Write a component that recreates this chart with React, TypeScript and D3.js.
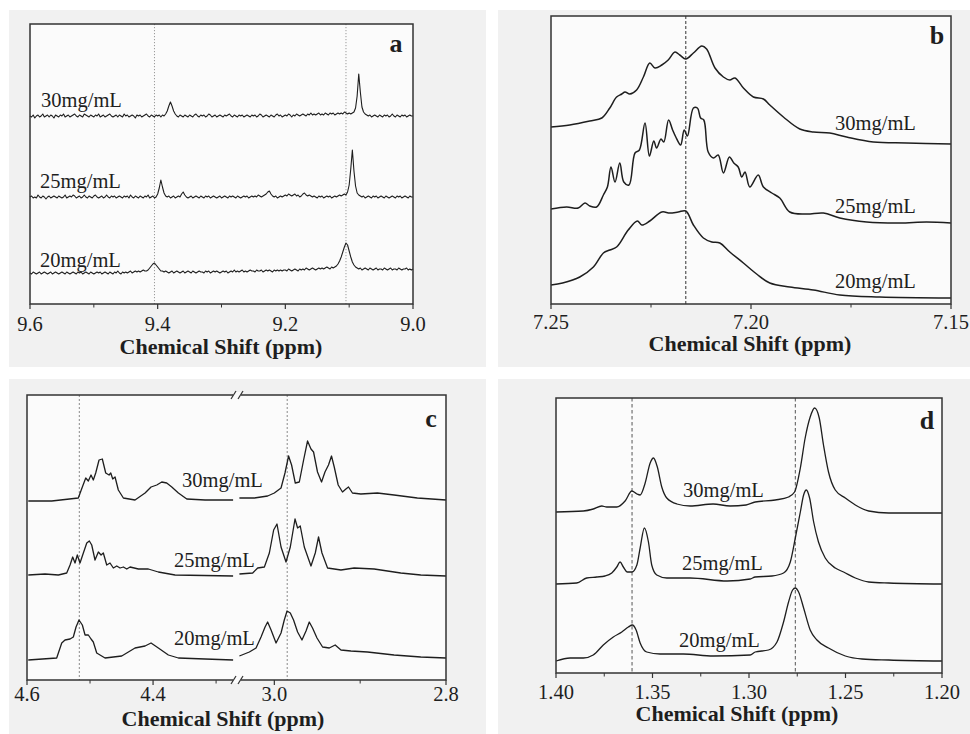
import * as d3 from 'd3';

type Pt = [number, number];

const concLabels = ['30mg/mL', '25mg/mL', '20mg/mL'];

// ---- panel a: 9.6 -> 9.0 ppm, one value every 0.0025 ppm (offset + deviation)
const aShift = d3.range(241).map(i => +(9.6 - i * 0.0025).toFixed(4));
const aOffsets = [188, 107, 31];
const a30 = [
  0, -1, 1, -2, 0, 1, -1, 0, 2, -1, 0, 1, -1, 1, 0, -2, 1, 0, -1, 1,
  0, 2, -1, 0, 1, -1, 0, 1, 2, 0, -1, 1, 0, -1, 2, 1, 0, -1, 1, 0,
  -1, 1, 0, 2, -1, 0, 1, -1, 0, 1, 2, 0, -1, 0, 1, -1, 1, 0, -1, 2,
  0, 1, -1, 0, 1, 0, -2, 1, 0, 1, -1, 0, 1, 2, 0, -1, 1, 0, -1, 1,
  0, 1, -1, 1, 0, 2, 5, 10, 14, 10, 5, 2, 0, -1, 1, 0, -1, 1, 0, -1,
  1, 0, -1, 1, 2, 0, -1, 1, 0, 1, -1, 0, 2, 1, -1, 0, 1, -1, 0, 1,
  0, -1, 1, 0, 1, 2, 0, -1, 1, 0, -1, 1, 0, 1, -1, 0, 1, 0, -1, 1,
  0, 1, -1, 0, 2, 1, -1, 0, 1, 0, -1, 1, 0, -1, 1, 2, 0, 1, -1, 0,
  1, 0, 2, 1, -1, 1, 0, 2, 1, 0, 1, 2, 1, 0, 2, 1, 3, 1, 2, 1,
  2, 3, 1, 2, 1, 3, 2, 1, 3, 2, 3, 1, 2, 3, 2, 3, 2, 4, 3, 2,
  3, 2, 3, 4, 8, 20, 42, 24, 9, 4, 2, 1, 0, 1, -1, 0, 1, 0, -1, 1,
  0, -1, 1, 0, 1, -1, 0, 2, 0, -1, 1, 0, -1, 1, 0, 1, -1, 0, 1, 0,
  0,
];
const a25 = [
  0, 1, -1, 0, -1, 2, 0, -1, 1, 0, -2, 0, 1, -1, 0, 1, 0, -1, 1, 0,
  -1, 0, 2, -1, 0, 1, 0, 2, 1, -1, 0, 1, -1, 0, 2, 0, -1, 1, 0, -1,
  1, 2, 0, -1, 0, 1, -1, 0, 2, 0, -1, 1, 0, 1, -1, 0, 1, 0, -1, 1,
  0, 1, -1, 2, 0, -1, 1, 0, -1, 1, 0, -1, 1, 0, 2, -1, 0, 1, -1, 0,
  3, 9, 17, 10, 4, 1, 0, 1, -1, 0, 1, -1, 0, 1, 0, 3, 5, 2, 0, -1,
  0, 1, -1, 0, 1, 0, -1, 1, 0, -1, 1, 0, 1, -1, 0, 1, 0, -1, 0, 1,
  -1, 0, 1, 0, -1, 1, 0, 1, 0, -1, 1, 0, -1, 0, 1, 0, 1, -1, 0, 1,
  0, 1, 0, 2, 1, 0, 1, 2, 3, 5, 6, 3, 1, 0, 1, -1, 0, 1, 0, 1,
  2, 1, 3, 2, 1, 2, 3, 1, 2, 0, 1, 3, 4, 2, 1, 2, 1, 0, 1, 0,
  -1, 1, 0, 1, -1, 0, 1, 0, 1, -1, 0, 1, 0, 1, 2, 1, 2, 3, 2, 5,
  12, 28, 47, 26, 11, 4, 2, 1, 0, 1, -1, 0, 1, 0, -1, 1, 0, 1, -1, 0,
  1, 0, -1, 1, 0, -1, 0, 1, 0, -1, 1, 0, 1, -1, 0, 1, 0, -1, 1, 0,
  0,
];
const a20 = [
  0, -1, 1, 0, -1, 0, 1, -1, 0, 1, 0, -1, 0, 1, -1, 0, 1, 0, -1, 0,
  1, 0, -1, 1, 0, -1, 0, 1, 0, -1, 1, 0, 1, -1, 0, 1, 0, -1, 1, 0,
  -1, 0, 1, 0, 1, -1, 0, 1, 0, -1, 1, 0, -1, 1, 0, 2, 0, -1, 1, 0,
  1, 0, 1, 2, 0, 1, 2, 1, 2, 1, 2, 3, 2, 2, 3, 5, 7, 9, 10, 8,
  6, 4, 2, 2, 1, 2, 1, 0, 1, 2, 0, 1, 2, 1, 0, 1, 2, 0, 1, 2,
  1, 0, 2, 1, 0, 1, 2, 1, 1, 0, 2, 1, 2, 0, 1, 2, 1, 2, 1, 0,
  1, 2, 1, 2, 0, 1, 2, 1, 3, 1, 2, 1, 2, 3, 1, 2, 1, 2, 3, 2,
  2, 1, 3, 2, 2, 3, 1, 2, 3, 2, 3, 2, 1, 3, 2, 3, 2, 3, 2, 3,
  3, 2, 4, 3, 2, 3, 4, 3, 2, 4, 3, 4, 3, 5, 4, 3, 4, 5, 4, 3,
  4, 5, 4, 5, 4, 5, 6, 5, 4, 6, 5, 6, 7, 9, 12, 16, 21, 26, 30, 28,
  22, 16, 11, 8, 6, 5, 4, 5, 3, 4, 5, 4, 3, 5, 4, 3, 4, 5, 3, 4,
  4, 3, 5, 4, 3, 4, 5, 3, 4, 4, 3, 5, 4, 3, 4, 4, 5, 3, 4, 3,
  4,
];

// ---- panel b: 7.25 -> 7.15 ppm
const b30: Pt[] = [
  [7.25, 177], [7.2453, 179], [7.2403, 183], [7.2373, 186], [7.2353, 196], [7.2336, 207],
  [7.2323, 210], [7.2315, 212], [7.2303, 210], [7.2286, 214], [7.2269, 227], [7.2253, 241],
  [7.224, 236], [7.2223, 239], [7.2207, 244], [7.219, 252], [7.2178, 249], [7.2163, 245],
  [7.2144, 251], [7.2123, 258], [7.2111, 255], [7.209, 236], [7.2069, 227], [7.2053, 224],
  [7.204, 226], [7.2019, 216], [7.1994, 207], [7.1969, 205], [7.1953, 199], [7.1919, 187],
  [7.1878, 175], [7.1844, 172], [7.1803, 171], [7.1761, 167], [7.1694, 162], [7.1611, 161],
  [7.15, 160],
];
const b25: Pt[] = [
  [7.25, 95], [7.2461, 97], [7.2432, 96], [7.2415, 101], [7.2403, 98], [7.2386, 97],
  [7.2369, 109], [7.2359, 117], [7.235, 137], [7.234, 122], [7.2328, 141], [7.2318, 122],
  [7.2305, 119], [7.229, 151], [7.2279, 154], [7.2265, 181], [7.2254, 148], [7.2243, 163],
  [7.2236, 156], [7.2225, 165], [7.2218, 162], [7.2206, 184], [7.2196, 174], [7.2188, 167],
  [7.2176, 159], [7.2167, 174], [7.2159, 168], [7.2144, 196], [7.2134, 196], [7.2126, 186],
  [7.2118, 184], [7.2107, 152], [7.2094, 146], [7.2082, 149], [7.2069, 131], [7.2054, 147],
  [7.2043, 141], [7.2032, 137], [7.2023, 127], [7.2015, 132], [7.2003, 117], [7.1982, 129],
  [7.1969, 117], [7.1948, 111], [7.1928, 106], [7.1903, 92], [7.1861, 90], [7.1819, 91],
  [7.1778, 86], [7.1711, 82], [7.1628, 81], [7.1561, 82], [7.15, 81],
];
const b20: Pt[] = [
  [7.25, 19], [7.2471, 21], [7.2428, 27], [7.2394, 37], [7.2369, 51], [7.2353, 54],
  [7.2336, 57], [7.2307, 74], [7.2284, 83], [7.2273, 79], [7.2253, 83], [7.2223, 92],
  [7.2203, 91], [7.2182, 92], [7.2163, 93], [7.2144, 79], [7.2119, 66], [7.2098, 62],
  [7.2078, 61], [7.2053, 52], [7.2019, 41], [7.1986, 30], [7.1953, 21], [7.1903, 17],
  [7.1844, 14], [7.1778, 9], [7.1678, 7], [7.15, 6],
];

// ---- panel c: two ranges, 4.6 -> 4.27 and 3.04 -> 2.8 ppm
const c30Left: Pt[] = [
  [4.598, 179], [4.5608, 179], [4.5186, 182], [4.5122, 193], [4.5068, 202], [4.5027, 199],
  [4.4984, 205], [4.4948, 200], [4.491, 207], [4.4857, 220], [4.4805, 221], [4.4751, 207],
  [4.4698, 205], [4.4671, 207], [4.464, 201], [4.4603, 203], [4.4551, 190], [4.4471, 182],
  [4.4286, 180], [4.4127, 187], [4.4032, 193], [4.3941, 195], [4.3862, 198], [4.3783, 197],
  [4.3703, 193], [4.3598, 187], [4.3465, 181], [4.3175, 180], [4.273, 180],
];
const c30Right: Pt[] = [
  [3.0407, 182], [3.0233, 182], [3.0078, 184], [3.0, 187], [2.9922, 192], [2.9876, 207],
  [2.9834, 224], [2.9799, 215], [2.9756, 197], [2.9709, 198], [2.9659, 220], [2.9613, 239],
  [2.9573, 231], [2.9543, 228], [2.9497, 208], [2.945, 198], [2.941, 208], [2.9369, 215],
  [2.9334, 224], [2.9302, 213], [2.9256, 195], [2.9206, 188], [2.9166, 191], [2.9136, 193],
  [2.909, 187], [2.8992, 186], [2.8799, 187], [2.8605, 185], [2.8334, 182], [2.8, 180],
];
const c25Left: Pt[] = [
  [4.598, 105], [4.5714, 106], [4.5503, 105], [4.537, 107], [4.5317, 115], [4.5275, 123],
  [4.5238, 117], [4.5202, 125], [4.5159, 117], [4.5106, 127], [4.5052, 137], [4.5011, 139],
  [4.4973, 135], [4.4921, 120], [4.4868, 128], [4.4825, 125], [4.4789, 127], [4.4735, 115],
  [4.4683, 117], [4.463, 112], [4.4576, 114], [4.4524, 112], [4.4471, 113], [4.4417, 111],
  [4.4365, 113], [4.4233, 111], [4.4075, 111], [4.3916, 108], [4.3651, 105], [4.273, 104],
];
const c25Right: Pt[] = [
  [3.0407, 106], [3.0252, 107], [3.0194, 112], [3.0116, 113], [3.0058, 127], [3.0008, 150],
  [2.9969, 156], [2.9922, 133], [2.9864, 118], [2.9814, 133], [2.9759, 161], [2.9729, 152],
  [2.9698, 154], [2.9651, 133], [2.9573, 114], [2.9523, 127], [2.9485, 143], [2.9445, 127],
  [2.938, 112], [2.9224, 110], [2.907, 112], [2.8837, 111], [2.8527, 107], [2.8294, 105],
  [2.8, 104],
];
const c20Left: Pt[] = [
  [4.598, 20], [4.5529, 22], [4.5449, 37], [4.5397, 40], [4.5317, 41], [4.5265, 43],
  [4.5222, 53], [4.5175, 60], [4.5122, 55], [4.5079, 45], [4.5027, 45], [4.4984, 41],
  [4.4948, 38], [4.4894, 27], [4.4762, 22], [4.4497, 24], [4.4286, 32], [4.4127, 34],
  [4.4032, 37], [4.3916, 32], [4.3757, 25], [4.3598, 22], [4.3175, 21], [4.273, 20],
];
const c20Right: Pt[] = [
  [3.0407, 24], [3.0291, 28], [3.0213, 32], [3.0155, 43], [3.0108, 53], [3.0078, 58],
  [3.0038, 50], [2.998, 37], [2.9922, 47], [2.9884, 60], [2.9852, 69], [2.9814, 67],
  [2.9776, 60], [2.9729, 48], [2.9678, 40], [2.9631, 49], [2.9593, 58], [2.9555, 52],
  [2.9503, 42], [2.9438, 33], [2.936, 32], [2.9291, 35], [2.9224, 30], [2.9108, 29],
  [2.8915, 28], [2.8605, 25], [2.8294, 23], [2.8, 22],
];

// ---- panel d: 1.40 -> 1.20 ppm
const d30: Pt[] = [
  [1.4, 161], [1.3858, 162], [1.3807, 164], [1.3763, 167], [1.3737, 166], [1.3685, 166],
  [1.3642, 172], [1.3607, 182], [1.3581, 179], [1.3564, 178], [1.3538, 190], [1.3512, 210],
  [1.3495, 215], [1.3475, 206], [1.3452, 186], [1.3426, 175], [1.3374, 169], [1.3305, 167],
  [1.3186, 169], [1.3098, 167], [1.3015, 168], [1.2968, 171], [1.2864, 173], [1.2795, 176],
  [1.2764, 181], [1.2734, 205], [1.2709, 235], [1.2683, 256], [1.266, 265], [1.2636, 255],
  [1.2614, 228], [1.2588, 201], [1.2553, 183], [1.2501, 175], [1.2449, 168], [1.238, 162],
  [1.2276, 160], [1.2, 160],
];
const d25: Pt[] = [
  [1.4, 89], [1.3893, 90], [1.3841, 95], [1.3789, 96], [1.3746, 97], [1.3711, 100],
  [1.3685, 106], [1.3668, 111], [1.3651, 106], [1.363, 101], [1.3607, 101], [1.3581, 108],
  [1.3564, 125], [1.3542, 145], [1.3521, 131], [1.3504, 108], [1.3478, 98], [1.3426, 95],
  [1.3305, 95], [1.3113, 92], [1.2994, 94], [1.2968, 96], [1.2881, 97], [1.2821, 100],
  [1.2786, 111], [1.276, 135], [1.2734, 161], [1.2717, 178], [1.2703, 183], [1.2686, 175],
  [1.2665, 151], [1.264, 131], [1.2605, 115], [1.2553, 105], [1.251, 101], [1.2449, 95],
  [1.238, 91], [1.2276, 90], [1.2, 89],
];
const d20: Pt[] = [
  [1.4, 12], [1.3927, 15], [1.3858, 15], [1.3807, 18], [1.3755, 28], [1.3703, 36],
  [1.3659, 41], [1.3625, 46], [1.3604, 48], [1.3585, 43], [1.3564, 30], [1.353, 21],
  [1.3461, 19], [1.334, 19], [1.3186, 17], [1.2994, 18], [1.2968, 21], [1.2899, 23],
  [1.2855, 31], [1.2821, 51], [1.2795, 71], [1.2774, 83], [1.276, 85], [1.2743, 81],
  [1.2717, 65], [1.2683, 43], [1.2648, 33], [1.2588, 25], [1.2501, 17], [1.2414, 14],
  [1.2276, 13], [1.2, 12],
];

const aTraces = [a30, a25, a20].map((vals, k) =>
  [aShift.map((x, i) => [x, aOffsets[k] + vals[i]] as Pt)]
);

const serif = "'Liberation Serif', 'Times New Roman', serif";
const ink = '#1e1e1e';

const panels = [
  {
    letter: 'a', bg: [9, 10, 477, 357], box: [30, 24, 413, 304],
    segs: [{ domain: [9.6, 9.0], range: [30, 413], major: [9.6, 9.4, 9.2, 9.0], minor: [9.5, 9.3, 9.1] }],
    fmt: d3.format('.1f'),
    guides: [{ seg: 0, ppm: 9.405 }, { seg: 0, ppm: 9.105 }],
    guideStroke: '#9a9a9a', guideDash: '1.2,1.8',
    traces: aTraces, curve: d3.curveLinear, width: 1.1,
    labels: [[41, 107], [40, 188], [40, 267]],
    letterPos: [396, 52], tickY: 331, title: [221, 354],
  },
  {
    letter: 'b', bg: [498, 10, 472, 357], box: [551, 16, 951, 304],
    segs: [{ domain: [7.25, 7.15], range: [551, 951], major: [7.25, 7.2, 7.15], minor: [7.225, 7.175] }],
    fmt: d3.format('.2f'),
    guides: [{ seg: 0, ppm: 7.2163 }],
    guideStroke: '#333', guideDash: '3,2',
    traces: [[b30], [b25], [b20]], curve: d3.curveCatmullRom.alpha(0.5), width: 1.5,
    labels: [[835, 130], [835, 213], [835, 288]],
    letterPos: [937, 44], tickY: 329, title: [750, 351],
  },
  {
    letter: 'c', bg: [9, 379, 477, 355], box: [27, 395, 446, 680],
    segs: [
      { domain: [4.6, 4.27], range: [27, 235], major: [4.6, 4.4], minor: [4.5, 4.3] },
      { domain: [3.04, 2.8], range: [240, 446], major: [3.0, 2.8], minor: [2.9] },
    ],
    fmt: d3.format('.1f'),
    guides: [{ seg: 0, ppm: 4.517 }, { seg: 1, ppm: 2.985 }],
    guideStroke: '#8a8a8a', guideDash: '2,2',
    traces: [[c30Left, c30Right], [c25Left, c25Right], [c20Left, c20Right]],
    curve: d3.curveLinear, width: 1.3,
    labels: [[182, 487], [174, 567], [174, 645]],
    letterPos: [431, 427], tickY: 701, title: [223, 726], brk: 237,
  },
  {
    letter: 'd', bg: [498, 379, 472, 355], box: [556, 398, 942, 673],
    segs: [{ domain: [1.4, 1.2], range: [556, 942], major: [1.4, 1.35, 1.3, 1.25, 1.2], minor: [1.375, 1.325, 1.275, 1.225] }],
    fmt: d3.format('.2f'),
    guides: [{ seg: 0, ppm: 1.3606 }, { seg: 0, ppm: 1.276 }],
    guideStroke: '#555', guideDash: '3.5,2.5',
    traces: [[d30], [d25], [d20]], curve: d3.curveMonotoneX, width: 1.3,
    labels: [[683, 497], [682, 570], [679, 647]],
    letterPos: [927, 429], tickY: 699, title: [737, 721],
  },
];

function Panel({ p }: { p: any }) {
  const [x0, y0, x1, y1] = p.box;
  const y = d3.scaleLinear().domain([0, y1 - y0]).range([y1, y0]);
  const xs = p.segs.map((s: any) => d3.scaleLinear().domain(s.domain).range(s.range));
  return (
    <g>
      <rect x={p.bg[0]} y={p.bg[1]} width={p.bg[2]} height={p.bg[3]} fill="#f1f1f1" />
      <rect x={x0} y={y0} width={x1 - x0} height={y1 - y0} fill="#fbfbfb" />
      {p.guides.map((g: any, i: number) => (
        <line key={'g' + i} x1={xs[g.seg](g.ppm)} x2={xs[g.seg](g.ppm)} y1={y0} y2={y1}
          stroke={p.guideStroke} strokeWidth={1} strokeDasharray={p.guideDash} />
      ))}
      {p.traces.map((tr: Pt[][], k: number) =>
        tr.map((pts, si) => {
          const line = d3.line<Pt>().x(d => xs[si](d[0])).y(d => y(d[1])).curve(p.curve);
          return <path key={k + '-' + si} d={line(pts) || ''} fill="none" stroke={ink}
            strokeWidth={p.width} strokeLinejoin="round" />;
        })
      )}
      <rect x={x0} y={y0} width={x1 - x0} height={y1 - y0} fill="none" stroke="#333" strokeWidth={1.5} />
      {p.segs.map((s: any, si: number) => (
        <g key={'ax' + si}>
          {s.major.map((t: number) => (
            <g key={'M' + t}>
              <line x1={xs[si](t)} x2={xs[si](t)} y1={y1} y2={y1 + 5} stroke="#333" strokeWidth={1.2} />
              <text x={xs[si](t)} y={p.tickY} textAnchor="middle" fontFamily={serif} fontSize={20.5} fill={ink}>
                {p.fmt(t)}
              </text>
            </g>
          ))}
          {s.minor.map((t: number) => (
            <line key={'m' + t} x1={xs[si](t)} x2={xs[si](t)} y1={y1} y2={y1 + 3.5} stroke="#333" strokeWidth={1} />
          ))}
        </g>
      ))}
      {p.brk !== undefined && [y0, y1].map(yy => (
        <g key={'brk' + yy}>
          <rect x={p.brk - 4} y={yy - 3} width={8} height={6} fill="#fbfbfb" />
          <line x1={p.brk - 6} y1={yy + 4} x2={p.brk - 1} y2={yy - 4} stroke="#333" strokeWidth={1.2} />
          <line x1={p.brk + 1} y1={yy + 4} x2={p.brk + 6} y2={yy - 4} stroke="#333" strokeWidth={1.2} />
        </g>
      ))}
      {concLabels.map((lab, k) => (
        <text key={lab} x={p.labels[k][0]} y={p.labels[k][1]} fontFamily={serif} fontSize={20.5} fill={ink}>
          {lab}
        </text>
      ))}
      <text x={p.letterPos[0]} y={p.letterPos[1]} textAnchor="middle" fontFamily={serif}
        fontSize={26} fontWeight="bold" fill={ink}>{p.letter}</text>
      <text x={p.title[0]} y={p.title[1]} textAnchor="middle" fontFamily={serif}
        fontSize={22} fontWeight="bold" fill={ink}>Chemical Shift (ppm)</text>
    </g>
  );
}

export default function App() {
  return (
    <svg width={970} height={734} style={{ position: 'absolute', left: 0, top: 0, background: '#fff' }}>
      {panels.map(p => <Panel key={p.letter} p={p} />)}
    </svg>
  );
}
